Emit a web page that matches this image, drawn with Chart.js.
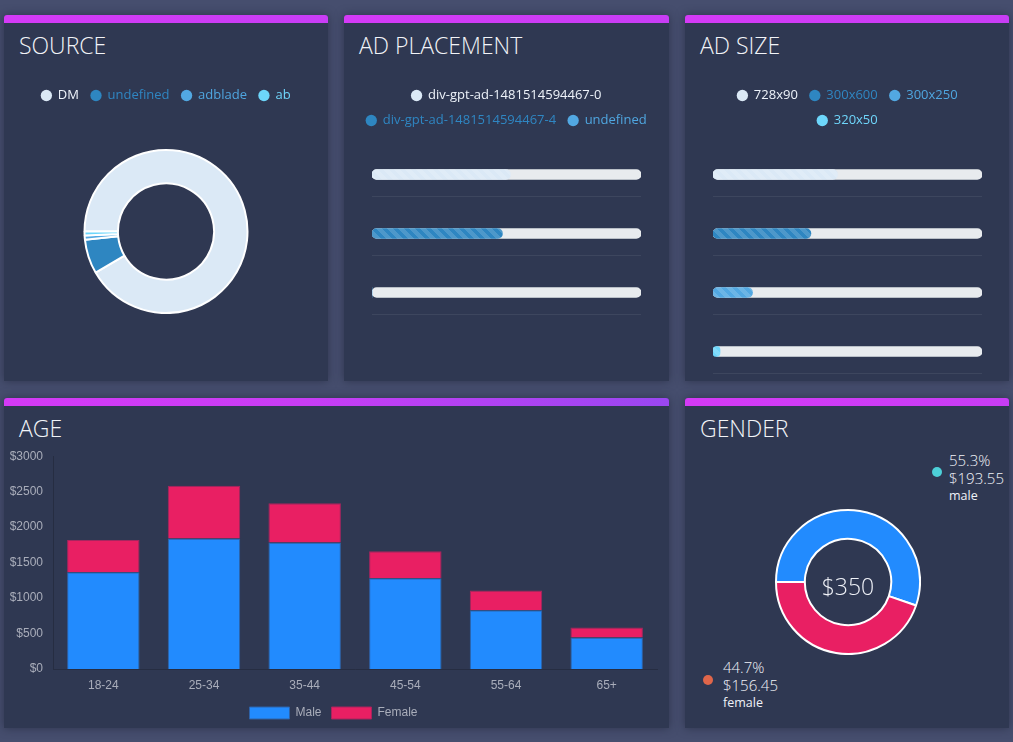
<!DOCTYPE html>
<html lang="en">
<head>
  <meta charset="UTF-8">
  <title>Audience dashboard</title>
  <script src="https://cdn.jsdelivr.net/npm/chart.js"></script>
  <style>
    body {
      margin: 0;
      width: 1013px;
      height: 742px;
      background: #464e6e;
      font-family: "Open Sans", sans-serif;
      position: relative;
      overflow: hidden;
    }
    .panel {
      position: absolute;
      background: #2f3852;
      border-radius: 3px 3px 0 0;
      box-shadow: 0 0 10px rgba(25, 30, 50, 0.55);
    }
    .panel::before {
      content: "";
      position: absolute;
      left: 0; top: 0; right: 0;
      height: 8px;
      border-radius: 3px 3px 0 0;
      background: linear-gradient(90deg, #d43af6, #c83df5);
    }
    .panel.wide::before {
      background: linear-gradient(90deg, #d43af6 0%, #c83df5 45%, #9a47f1 100%);
    }
    .title {
      position: absolute;
      left: 15px;
      top: 18px;
      font-size: 23px;
      font-weight: 300;
      line-height: 24px;
      color: #f2f4f8;
    }
    .box { position: absolute; }
    .dot {
      position: absolute;
      width: 10px; height: 10px;
      border-radius: 50%;
    }
    .glabel {
      position: absolute;
      color: #f0f2f8;
      font-size: 15px;
      font-weight: 300;
      line-height: 18px;
    }
    .glabel b {
      display: block;
      font-size: 12.5px;
      font-weight: 500;
    }
    #total {
      position: absolute;
      left: 798px; width: 100px;
      top: 571px;
      text-align: center;
      font-size: 23px;
      font-weight: 300;
      line-height: 30px;
      color: #f0f2f8;
    }
  </style>
</head>
<body>
  <div class="panel" style="left:4px;top:15px;width:324px;height:366px"><div class="title">SOURCE</div></div>
  <div class="panel" style="left:344px;top:15px;width:325px;height:366px"><div class="title">AD PLACEMENT</div></div>
  <div class="panel" style="left:685px;top:15px;width:324px;height:366px"><div class="title">AD SIZE</div></div>
  <div class="panel wide" style="left:4px;top:398px;width:665px;height:330px"><div class="title">AGE</div></div>
  <div class="panel" style="left:685px;top:398px;width:324px;height:330px"><div class="title">GENDER</div></div>

  <div class="box" style="left:4px;top:77px;width:324px;height:237px"><canvas id="sourceChart"></canvas></div>
  <div class="box" style="left:346px;top:77px;width:321px;height:245px"><canvas id="placementChart"></canvas></div>
  <div class="box" style="left:692px;top:77px;width:311px;height:304px"><canvas id="sizeChart"></canvas></div>
  <div class="box" style="left:4px;top:439px;width:665px;height:290px"><canvas id="ageChart"></canvas></div>
  <div class="box" style="left:775px;top:509px;width:146px;height:146px"><canvas id="genderChart"></canvas></div>

  <div id="total"></div>
  <div class="dot" style="left:932px;top:467px;background:#4dd0d8"></div>
  <div class="glabel" id="maleLabel" style="left:949px;top:451px"></div>
  <div class="dot" style="left:703px;top:675px;background:#e0664a"></div>
  <div class="glabel" id="femaleLabel" style="left:723px;top:658px"></div>

  <script>
    // source share (%)
    const sourceLabels = ["DM", "undefined", "adblade", "ab"];
    const sourceShare = [91.6, 6.8, 0.8, 0.8];

    // placement / size share (%)
    const placementLabels = ["div-gpt-ad-1481514594467-0", "div-gpt-ad-1481514594467-4", "undefined"];
    const placementShare = [51.5, 48.5, 0];
    const sizeLabels = ["728x90", "300x600", "300x250", "320x50"];
    const sizeShare = [46.3, 36.4, 14.7, 2.6];

    // spend by age
    const ageLabels = ["18-24", "25-34", "35-44", "45-54", "55-64", "65+"];
    const maleSpend = [1365, 1840, 1785, 1280, 830, 445];
    const femaleSpend = [455, 745, 550, 380, 275, 140];

    // spend by gender
    const genderLabels = ["male", "female"];
    const genderSpend = [193.55, 156.45];

    const swatch = ["#dbe9f6", "#2e86c1", "#52a8e2", "#6dd6fb"];
    const swatchText = ["#eef3fa", "#2f86c2", "#4fa6e0", "#6fd6fb"];

    const legendLabelOpts = {
      usePointStyle: true,
      boxWidth: 10,
      boxHeight: 8,
      padding: 12,
      font: { family: '"Open Sans", sans-serif', size: 13 },
    };

    function circleItems(labels) {
      return () => labels.map((text, i) => ({
        text: text,
        fillStyle: swatch[i],
        strokeStyle: swatch[i],
        lineWidth: 0,
        fontColor: swatchText[i],
        pointStyle: "circle",
        hidden: false,
        index: i,
        datasetIndex: 0,
      }));
    }

    // extra space between the legend and the plot
    function legendGap(px) {
      return {
        id: "legendGap",
        beforeInit(chart) {
          const fit = chart.legend.fit;
          chart.legend.fit = function () {
            fit.call(this);
            this.height += px;
          };
        },
      };
    }

    // bootstrap-like diagonal stripes
    function stripes(color) {
      const s = 11;
      const tile = document.createElement("canvas");
      tile.width = s;
      tile.height = s;
      const c = tile.getContext("2d");
      c.fillStyle = color;
      c.fillRect(0, 0, s, s);
      const w = "rgba(255,255,255,0.15)";
      const n = "rgba(255,255,255,0)";
      const g = c.createLinearGradient(0, s, s, 0);
      g.addColorStop(0, w); g.addColorStop(0.25, w);
      g.addColorStop(0.25, n); g.addColorStop(0.5, n);
      g.addColorStop(0.5, w); g.addColorStop(0.75, w);
      g.addColorStop(0.75, n); g.addColorStop(1, n);
      c.fillStyle = g;
      c.fillRect(0, 0, s, s);
      return c.createPattern(tile, "repeat");
    }

    // thin line under every progress row
    const sepLines = {
      id: "sepLines",
      beforeDatasetsDraw(chart) {
        const { ctx, chartArea, scales } = chart;
        ctx.save();
        ctx.strokeStyle = "rgba(255,255,255,0.07)";
        ctx.lineWidth = 1;
        chart.data.labels.forEach((l, i) => {
          const py = Math.round(scales.y.getPixelForValue(i) + 21) + 0.5;
          ctx.beginPath();
          ctx.moveTo(chartArea.left, py);
          ctx.lineTo(chartArea.right, py);
          ctx.stroke();
        });
        ctx.restore();
      },
    };

    new Chart(document.getElementById("sourceChart"), {
      type: "doughnut",
      data: {
        labels: sourceLabels,
        datasets: [{
          data: sourceShare,
          backgroundColor: swatch,
          borderColor: "#ffffff",
          borderWidth: 2,
        }],
      },
      options: {
        animation: false,
        responsive: true,
        maintainAspectRatio: false,
        rotation: -90,
        cutout: "59%",
        plugins: {
          legend: { labels: Object.assign({}, legendLabelOpts, { generateLabels: circleItems(sourceLabels) }) },
          tooltip: { enabled: false },
        },
      },
      plugins: [legendGap(37)],
    });

    function progressChart(id, labels, values, side) {
      const hiddenAxis = {
        display: true,
        grid: { display: false, drawTicks: false },
        border: { display: false },
        ticks: { display: false },
        afterFit: (s) => { s.width = side; },
      };
      return new Chart(document.getElementById(id), {
        type: "bar",
        data: {
          labels: labels,
          datasets: [
            {
              data: values,
              backgroundColor: labels.map((l, i) => stripes(swatch[i])),
              borderRadius: 5,
              borderSkipped: false,
              barThickness: 10,
              grouped: false,
            },
            {
              data: labels.map(() => 100),
              backgroundColor: "#e8ebee",
              borderRadius: 5,
              borderSkipped: false,
              barThickness: 10,
              grouped: false,
            },
          ],
        },
        options: {
          indexAxis: "y",
          animation: false,
          responsive: true,
          maintainAspectRatio: false,
          plugins: {
            legend: { labels: Object.assign({}, legendLabelOpts, { generateLabels: circleItems(labels) }) },
            tooltip: { enabled: false },
          },
          scales: {
            x: { display: false, min: 0, max: 100 },
            y: Object.assign({}, hiddenAxis, { position: "left" }),
            y2: Object.assign({}, hiddenAxis, { type: "category", position: "right" }),
          },
        },
        plugins: [sepLines, legendGap(8)],
      });
    }

    progressChart("placementChart", placementLabels, placementShare, 26);
    progressChart("sizeChart", sizeLabels, sizeShare, 21);

    const axisGray = "#a9adba";
    new Chart(document.getElementById("ageChart"), {
      type: "bar",
      data: {
        labels: ageLabels,
        datasets: [
          { label: "Male", data: maleSpend, backgroundColor: "#228bfe", borderColor: "#2f63a8", borderWidth: 1 },
          { label: "Female", data: femaleSpend, backgroundColor: "#e91f63", borderColor: "#a8255f", borderWidth: 1 },
        ],
      },
      options: {
        animation: false,
        responsive: true,
        maintainAspectRatio: false,
        layout: { padding: { top: 10, left: 6, right: 12, bottom: 0 } },
        plugins: {
          legend: {
            position: "bottom",
            labels: { color: axisGray, boxWidth: 40, boxHeight: 12, font: { size: 12 } },
          },
          tooltip: { enabled: false },
        },
        scales: {
          x: {
            stacked: true,
            grid: { display: false, drawTicks: false },
            border: { color: "#262d42" },
            ticks: { color: axisGray, padding: 9, font: { size: 12 } },
            afterFit: (s) => { s.height = 28; },
          },
          y: {
            stacked: true,
            min: 0,
            max: 3000,
            grid: { display: false, drawTicks: false },
            border: { color: "#262d42" },
            ticks: { stepSize: 500, color: axisGray, padding: 10, font: { size: 12 }, callback: (v) => "$" + v },
            afterFit: (s) => { s.width = 43; },
          },
        },
      },
    });

    new Chart(document.getElementById("genderChart"), {
      type: "doughnut",
      data: {
        labels: genderLabels,
        datasets: [{
          data: genderSpend,
          backgroundColor: ["#228bfe", "#e91f63"],
          borderColor: "#ffffff",
          borderWidth: 2,
        }],
      },
      options: {
        animation: false,
        responsive: true,
        maintainAspectRatio: false,
        rotation: -90,
        cutout: "60%",
        plugins: { legend: { display: false }, tooltip: { enabled: false } },
      },
    });

    const total = genderSpend.reduce((a, b) => a + b, 0);
    document.getElementById("total").textContent = "$" + Math.round(total);
    ["maleLabel", "femaleLabel"].forEach((id, i) => {
      const pct = (genderSpend[i] / total * 100).toFixed(1) + "%";
      document.getElementById(id).innerHTML =
        pct + "<br>$" + genderSpend[i].toFixed(2) + "<b>" + genderLabels[i] + "</b>";
    });
  </script>
</body>
</html>
